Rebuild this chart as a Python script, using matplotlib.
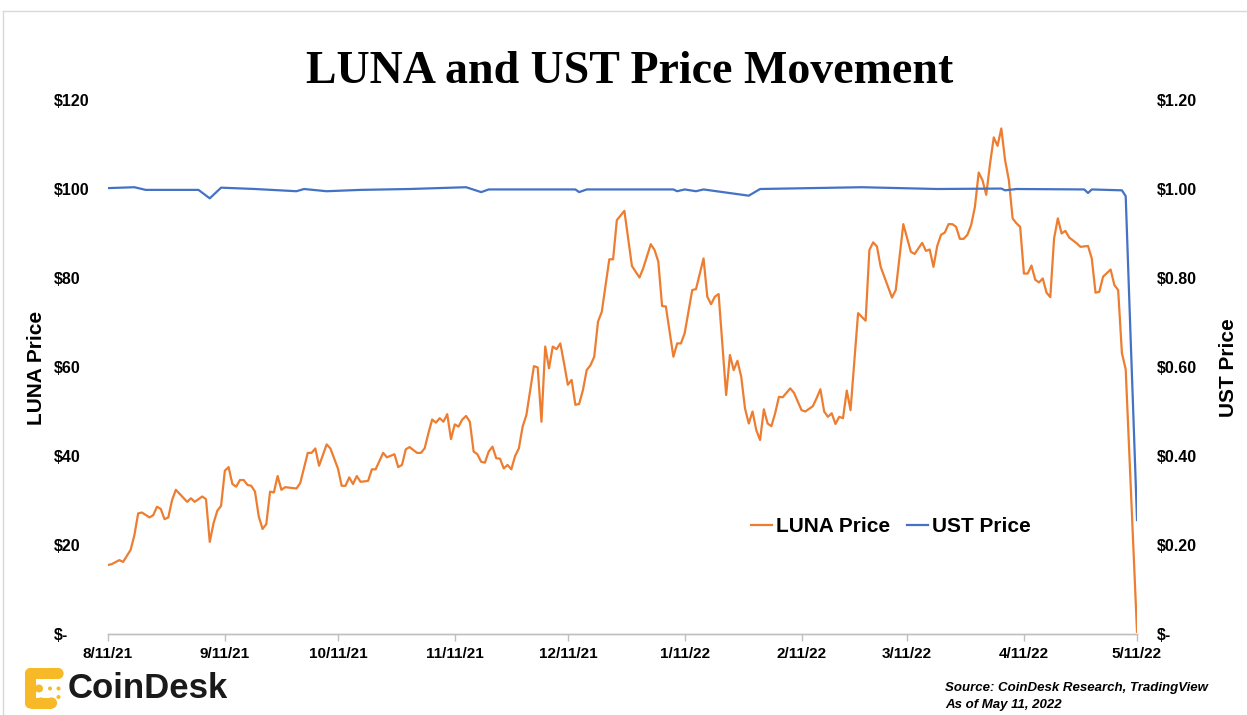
import matplotlib
matplotlib.use("Agg")
import matplotlib.pyplot as plt
from matplotlib.patches import Circle
from matplotlib.lines import Line2D
import pandas as pd

# ---------------- data ----------------
start_date = "2021-08-11"
luna_days = [0, 1, 3, 4, 6, 7, 8, 9, 11, 12, 13, 14, 15, 16, 17, 18, 21, 22, 23, 25, 26, 27, 28, 29, 30,
             31, 32, 33, 34, 35, 36, 37, 38, 39, 40, 41, 42, 43, 44, 45, 46, 47, 50, 51, 53, 54, 55, 56,
             57, 58, 59, 61, 62, 63, 64, 65, 66, 67, 69, 70, 71, 73, 74, 76, 77, 78, 79, 80, 82, 83, 84,
             85, 86, 87, 88, 89, 90, 91, 92, 93, 94, 95, 96, 97, 98, 99, 100, 101, 102, 103, 104, 105,
             106, 107, 108, 109, 110, 111, 113, 114, 115, 116, 117, 118, 119, 120, 121, 122, 123, 124,
             125, 126, 127, 128, 129, 130, 131, 133, 134, 135, 137, 139, 141, 142, 144, 145, 146, 147,
             148, 150, 151, 152, 153, 155, 156, 158, 159, 160, 161, 162, 164, 165, 166, 167, 168, 169,
             170, 171, 172, 173, 174, 175, 176, 177, 178, 179, 181, 182, 184, 185, 187, 188, 189, 190,
             191, 192, 193, 194, 195, 196, 197, 199, 201, 202, 203, 204, 205, 208, 209, 211, 213, 214,
             216, 217, 218, 219, 220, 221, 222, 223, 224, 225, 226, 227, 228, 229, 230, 231, 232, 233,
             234, 235, 236, 237, 238, 239, 240, 241, 242, 243, 244, 245, 246, 247, 248, 249, 250, 251,
             252, 253, 254, 255, 257, 258, 260, 261, 262, 263, 264, 266, 267, 268, 269, 270, 271, 272, 273]
luna_price = [15.5, 15.7, 16.6, 16.2, 18.9, 22.2, 27.1, 27.3, 26.2, 26.7, 28.6, 28.1, 25.8, 26.2, 30.1, 32.4,
              29.7, 30.5, 29.7, 30.9, 30.3, 20.7, 24.9, 27.7, 28.8,
              36.7, 37.5, 33.7, 33.1, 34.6, 34.6, 33.5, 33.3, 32.0, 26.4, 23.6, 24.7, 32.0, 31.8, 35.5,
              32.4, 33.0, 32.7, 33.9, 40.7, 40.7, 41.7, 37.8,
              40.2, 42.6, 41.7, 37.2, 33.3, 33.3, 35.2, 33.7, 35.5, 34.2, 34.4, 37.0, 37.0, 40.7, 39.7,
              40.4, 37.5, 38.0, 41.5, 42.0, 40.7, 40.7, 41.7,
              45.1, 48.2, 47.5, 48.5, 47.7, 49.4, 43.8, 47.1, 46.6, 48.2, 49.0, 47.7, 41.0, 40.4, 38.7,
              38.5, 41.0, 42.1, 39.5, 39.4, 37.2,
              38.0, 37.0, 40.0, 41.7, 46.6, 49.2, 60.2, 59.9, 47.7, 64.6, 59.7, 64.6, 64.0, 65.3, 60.8,
              56.0, 57.1, 51.5,
              51.7, 54.8, 59.3, 60.4, 62.3, 70.2, 72.4, 84.2, 84.2, 93.0, 95.1, 82.7, 80.1, 82.2, 87.6,
              86.3, 83.7, 73.7,
              73.6, 62.3, 65.3, 65.3, 67.6, 77.3, 77.5, 84.4, 75.8, 74.1, 75.8, 76.4, 53.7, 62.7, 59.3,
              61.4, 57.8, 50.7,
              47.3, 50.0, 45.8, 43.6, 50.5, 47.3, 46.7, 49.6, 53.3, 53.2, 55.2, 54.2, 50.3, 50.0, 51.2,
              53.0, 55.0, 50.0,
              48.8, 49.6, 47.2, 48.8, 48.5, 54.7, 50.3, 72.1, 70.4, 86.3, 88.0, 87.1, 82.5, 75.6, 77.3,
              92.1, 85.9, 85.4,
              87.9, 86.1, 86.4, 82.5, 87.2, 89.7, 90.2, 92.1, 92.1, 91.5, 88.8, 88.8, 89.7, 91.9, 96.0,
              103.7, 102.0, 98.7,
              105.6, 111.6, 109.7, 113.6, 106.5, 102.0, 93.4, 92.3, 91.5, 81.0, 81.0, 82.8, 79.6, 79.0,
              79.9, 76.7, 75.7, 88.9,
              93.4, 90.0, 90.6, 89.1, 87.8, 87.0, 87.2, 84.4, 76.7, 76.9, 80.3, 81.9, 78.4, 77.3, 63.1,
              59.5, 40.0, 20.0, 0.5]

ust_days = [0, 7, 10, 24, 27, 30, 39, 50, 52, 58, 67, 80, 95, 99, 101, 124, 125, 127, 150, 151, 153,
            156, 158, 170, 173, 200, 220, 237, 238, 241, 259, 260, 261, 269, 270, 271, 272, 273]
ust_price = [1.002, 1.004, 0.998, 0.998, 0.979, 1.003, 1.000, 0.995, 1.000, 0.995, 0.998, 1.000, 1.004,
             0.993, 0.999, 0.999, 0.993, 0.999, 0.999, 0.995, 0.999, 0.995, 0.999, 0.985, 1.000, 1.004,
             1.000, 1.001, 0.997, 1.000, 0.999, 0.991, 0.999, 0.997, 0.984, 0.74, 0.50, 0.256]

x_tick_dates = ["2021-08-11", "2021-09-11", "2021-10-11", "2021-11-11", "2021-12-11", "2022-01-11",
                "2022-02-11", "2022-03-11", "2022-04-11", "2022-05-11"]
x_tick_labels = ["8/11/21", "9/11/21", "10/11/21", "11/11/21", "12/11/21", "1/11/22", "2/11/22",
                 "3/11/22", "4/11/22", "5/11/22"]
luna_ticks = [0, 20, 40, 60, 80, 100, 120]
luna_tick_labels = ["$-", "$20", "$40", "$60", "$80", "$100", "$120"]
ust_ticks = [0, 0.2, 0.4, 0.6, 0.8, 1.0, 1.2]
ust_tick_labels = ["$-", "$0.20", "$0.40", "$0.60", "$0.80", "$1.00", "$1.20"]

# ---------------- style ----------------
W, H = 1247, 715
SANS = ["Liberation Sans", "DejaVu Sans"]
plt.rcParams["font.family"] = SANS
LUNA_C = "#ED7D31"
UST_C = "#4472C4"
AXIS_C = "#BFBFBF"

fig = plt.figure(figsize=(W / 100, H / 100), dpi=100)
fig.patch.set_facecolor("white")

# background overlay for border and logo (pixel coordinates)
bg = fig.add_axes([0, 0, 1, 1], zorder=-5)
bg.set_xlim(0, W)
bg.set_ylim(H, 0)
bg.axis("off")
bg.plot([3, W], [10.5, 10.5], color="#D9D9D9", lw=1)
bg.plot([3, 3], [10.5, H], color="#D9D9D9", lw=1)

logo_c = "#F7B928"
for (cx, cy, r) in [(30.5, 673.5, 5.6), (41, 673.5, 5.6), (51.5, 673.5, 5.6), (58, 673.5, 5.6),
                    (30.5, 684, 5.6), (30.5, 694, 5.6), (30.5, 703, 5.6), (41, 703, 5.6),
                    (51.5, 703, 5.6), (39, 688.5, 4.0)]:
    bg.add_patch(Circle((cx, cy), r, color=logo_c, lw=0))
bg.add_patch(plt.Rectangle((30.5, 668), 27.5, 11, color=logo_c, lw=0))
bg.add_patch(plt.Rectangle((25, 673.5), 11, 29.5, color=logo_c, lw=0))
bg.add_patch(plt.Rectangle((30.5, 697.5), 21, 11, color=logo_c, lw=0))
for (cx, cy) in [(50, 688.5), (58.5, 688.5), (58.5, 697)]:
    bg.add_patch(Circle((cx, cy), 2.0, color=logo_c, lw=0))

# main axes
x0, x1, y0, y1 = 108, 1137, 100, 634
ax = fig.add_axes([x0 / W, 1 - y1 / H, (x1 - x0) / W, (y1 - y0) / H])
start = pd.Timestamp(start_date)
luna_dates = start + pd.to_timedelta(luna_days, unit="D")
ust_dates = start + pd.to_timedelta(ust_days, unit="D")

ax.plot(luna_dates, luna_price, color=LUNA_C, lw=1.6, solid_joinstyle="round")
ax2 = ax.twinx()
ax2.plot(ust_dates, ust_price, color=UST_C, lw=1.6, solid_joinstyle="round")

ax.set_xlim(start, start + pd.Timedelta(days=273))
ax.set_ylim(0, 120)
ax2.set_ylim(0, 1.2)

for a in (ax, ax2):
    for s in ("top", "left", "right"):
        a.spines[s].set_visible(False)
    a.spines["bottom"].set_color(AXIS_C)
    a.spines["bottom"].set_linewidth(1.0)
    a.patch.set_visible(False)

x_font = dict(family=SANS, weight="bold", size=11)
y_font = dict(family=SANS, weight="bold", size=11.5)
ax.set_xticks(pd.to_datetime(x_tick_dates))
ax.set_xticklabels(x_tick_labels, fontdict=x_font)
ax.tick_params(axis="x", length=5, width=1, color=AXIS_C, pad=4)

ax.set_yticks(luna_ticks)
ax.set_yticklabels(luna_tick_labels, fontdict=y_font)
ax.tick_params(axis="y", length=0, pad=39)
for lbl in ax.get_yticklabels():
    lbl.set_horizontalalignment("left")

ax2.set_yticks(ust_ticks)
ax2.set_yticklabels(ust_tick_labels, fontdict=y_font)
ax2.tick_params(axis="y", length=0, pad=14)

# title and axis titles
fig.text(630 / W, 1 - 72 / H, "LUNA and UST Price Movement", ha="center", va="center",
         family=["Liberation Serif", "DejaVu Serif"], weight="bold", size=33, color="black")
fig.text(36 / W, 1 - 368 / H, "LUNA Price", rotation=90, ha="center", va="center",
         family=SANS, weight="bold", size=15)
fig.text(1229 / W, 1 - 368 / H, "UST Price", rotation=90, ha="center", va="center",
         family=SANS, weight="bold", size=15)

# legend
handles = [Line2D([], [], color=LUNA_C, lw=1.6), Line2D([], [], color=UST_C, lw=1.6)]
fig.legend(handles, ["LUNA Price", "UST Price"], loc="center",
           bbox_to_anchor=(891 / W, 1 - 527 / H), ncol=2, frameon=False,
           prop=dict(family=SANS, weight="bold", size=15),
           handlelength=1.0, handletextpad=0.2, columnspacing=0.8)

# logo text and source
fig.text(68 / W, 1 - 689 / H, "CoinDesk", ha="left", va="center",
         family=SANS, weight="bold", size=25, color="#1A1A1A")
fig.text(945 / W, 1 - 688 / H, "Source: CoinDesk Research, TradingView", ha="left", va="center",
         family=SANS, weight="bold", style="italic", size=9.5)
fig.text(945 / W, 1 - 705 / H, "As of May 11, 2022", ha="left", va="center",
         family=SANS, weight="bold", style="italic", size=9.5)

fig.savefig("out.png", dpi=100, facecolor="white")
